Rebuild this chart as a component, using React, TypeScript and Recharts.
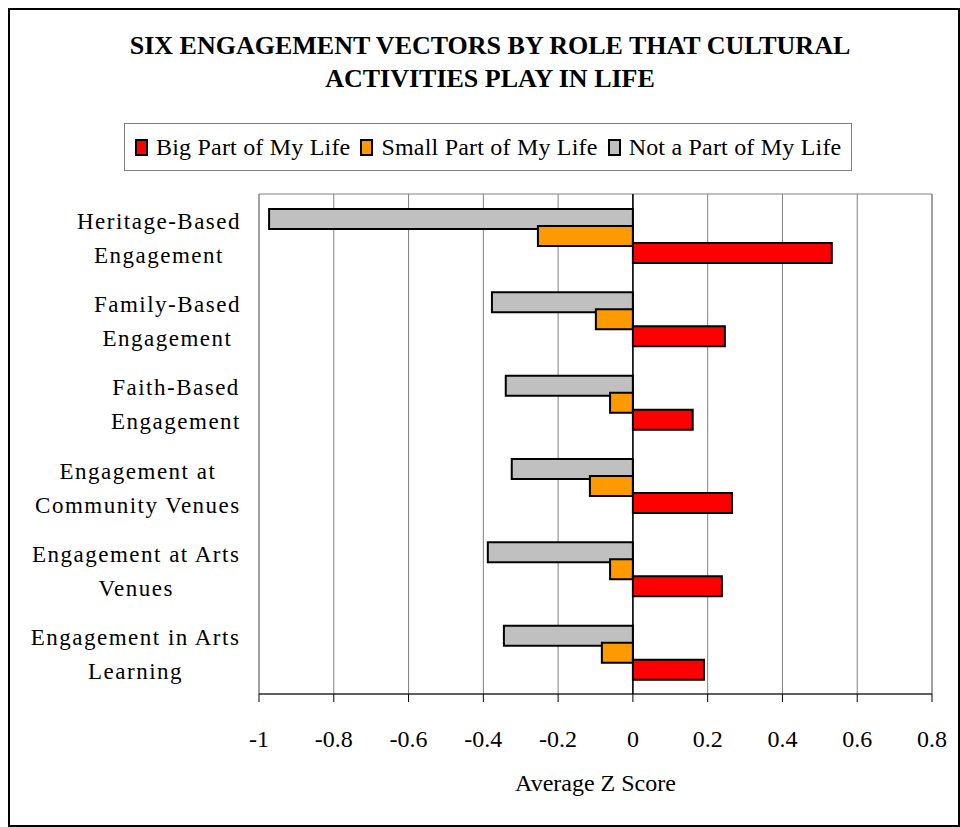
import React from 'react'
import { BarChart, Bar, XAxis, YAxis, CartesianGrid, ReferenceLine, ReferenceArea, Label } from 'recharts'

const categories = [
  ['Heritage-Based', 'Engagement'],
  ['Family-Based', 'Engagement'],
  ['Faith-Based', 'Engagement'],
  ['Engagement at', 'Community Venues'],
  ['Engagement at Arts', 'Venues'],
  ['Engagement in Arts', 'Learning'],
]
const bigPart = [0.532, 0.246, 0.16, 0.265, 0.238, 0.19]
const smallPart = [-0.254, -0.099, -0.061, -0.115, -0.061, -0.083]
const notPart = [-0.973, -0.377, -0.34, -0.324, -0.388, -0.345]
const xTicks = [-1, -0.8, -0.6, -0.4, -0.2, 0, 0.2, 0.4, 0.6, 0.8]

const series = [
  { key: 'big', name: 'Big Part of My Life', color: '#FF0000' },
  { key: 'small', name: 'Small Part of My Life', color: '#FF9900' },
  { key: 'not', name: 'Not a Part of My Life', color: '#C0C0C0' },
]

const data = categories.map((c, i) => ({
  cat: c.join(' '),
  lines: c,
  big: bigPart[i],
  small: smallPart[i],
  not: notPart[i],
}))

const FONT = '"Liberation Serif", serif'
const labelFont = `23px ${FONT}`
const LS = 1.5
let ctx: CanvasRenderingContext2D | null = null
function measure(s: string) {
  if (!ctx) ctx = document.createElement('canvas').getContext('2d')
  if (!ctx) return s.length * 10
  ctx.font = labelFont
  return ctx.measureText(s).width + s.length * LS
}

// two-line category label, block centred and right-aligned like Excel does
const CatTick = (props: any) => {
  const { y, payload } = props
  const row = data.find(d => d.cat === payload.value)
  const lines = row ? row.lines : [payload.value]
  const w = Math.max(...lines.map(measure))
  const cx = 241 - w / 2
  return (
    <text x={cx} y={y} textAnchor="middle" fontFamily={FONT} fontSize={23} letterSpacing={LS} fill="#000">
      <tspan x={cx} y={y - 15} dy="0.35em">{lines[0]}</tspan>
      <tspan x={cx} y={y + 19} dy="0.35em">{lines[1]}</tspan>
    </text>
  )
}

const ValTick = (props: any) => {
  const { x, y, payload } = props
  return (
    <text x={x} y={y + 43} textAnchor="middle" fontFamily={FONT} fontSize={24} fill="#000">
      {String(payload.value)}
    </text>
  )
}

export default function App() {
  return (
    <div style={{ position: 'absolute', left: 0, top: 0, width: 960, height: 827, background: '#fff' }}>
      <div style={{ position: 'absolute', left: 8, top: 8, width: 952, height: 819, border: '2px solid #000', boxSizing: 'border-box' }} />
      <div style={{ position: 'absolute', left: 0, top: 29, width: 980, textAlign: 'center', fontFamily: FONT, fontWeight: 'bold', fontSize: 26, lineHeight: '33px' }}>
        SIX ENGAGEMENT VECTORS BY ROLE THAT CULTURAL<br />ACTIVITIES PLAY IN LIFE
      </div>
      <div style={{ position: 'absolute', left: 124, top: 123, width: 728, height: 48, border: '1px solid #808080', boxSizing: 'border-box', display: 'flex', alignItems: 'center', paddingLeft: 10, fontFamily: FONT, fontSize: 24, letterSpacing: 0.2, whiteSpace: 'nowrap', overflow: 'visible' }}>
        {series.map(s => (
          <span key={s.key} style={{ display: 'flex', alignItems: 'center', marginRight: 10, flexShrink: 0 }}>
            <span style={{ display: 'inline-block', width: 9, height: 13, background: s.color, border: '2px solid #000', marginRight: 8 }} />
            {s.name}
          </span>
        ))}
      </div>
      <BarChart
        width={960}
        height={827}
        data={data}
        layout="vertical"
        margin={{ top: 194, right: 28, bottom: 30, left: 0 }}
        barSize={20}
        barGap={-3}
        style={{ position: 'absolute', left: 0, top: 0 }}
      >
        <CartesianGrid horizontal={false} stroke="#808080" strokeWidth={1} />
        <ReferenceArea x1={-1} x2={0.8} fill="none" stroke="#808080" strokeWidth={1} ifOverflow="visible" />
        <XAxis
          type="number"
          domain={[-1, 0.8]}
          ticks={xTicks}
          interval={0}
          tick={<ValTick />}
          tickSize={8}
          stroke="#000"
          height={103}
        >
          <Label value="Average Z Score" position="insideBottom" offset={6} fontFamily={FONT} fontSize={24} fill="#000" />
        </XAxis>
        <YAxis type="category" dataKey="cat" width={259} tick={<CatTick />} axisLine={false} tickLine={false} interval={0} />
        <ReferenceLine x={0} stroke="#000" strokeWidth={1.5} />
        <Bar dataKey="not" name="Not a Part of My Life" fill="#C0C0C0" stroke="#000" strokeWidth={2} isAnimationActive={false} />
        <Bar dataKey="small" name="Small Part of My Life" fill="#FF9900" stroke="#000" strokeWidth={2} isAnimationActive={false} />
        <Bar dataKey="big" name="Big Part of My Life" fill="#FF0000" stroke="#000" strokeWidth={2} isAnimationActive={false} />
      </BarChart>
    </div>
  )
}
